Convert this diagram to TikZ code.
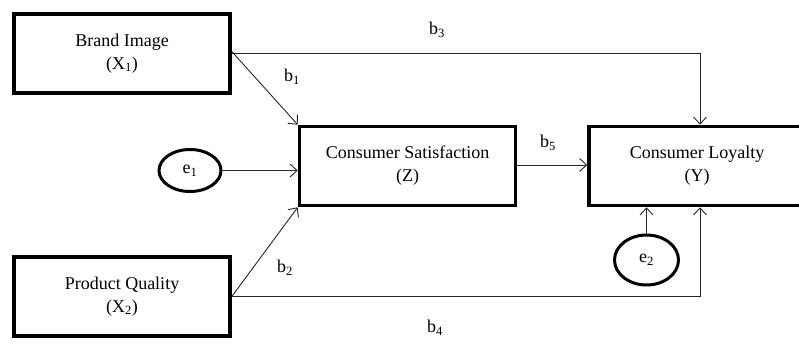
\documentclass[tikz,border=0pt]{standalone}
\usepackage{fontspec}
\setmainfont{Liberation Serif}
\usetikzlibrary{arrows.meta,shapes.geometric}
\begin{document}
\begin{tikzpicture}[x=1pt,y=-1pt,
  box/.style={draw,line width=3.6pt,minimum width=216pt,minimum height=79pt,align=center,font=\fontsize{18}{23}\selectfont,inner sep=0pt},
  err/.style={draw,ellipse,line width=3pt,minimum width=62pt,minimum height=42pt,inner sep=0pt,font=\fontsize{18}{22}\selectfont},
  conn/.style={line width=0.9pt,draw=black!85,-{Straight Barb[length=7pt,width=13pt,line width=0.9pt]}},
  lab/.style={font=\fontsize{18}{22}\selectfont,inner sep=0pt}]
\useasboundingbox (0,0) rectangle (799,343);
\clip (0,0) rectangle (799,343);
\node[box] (bi) at (122,53.5) {Brand Image\\(X\textsubscript{1})};
\node[box] (pq) at (122,296.5) {Product Quality\\(X\textsubscript{2})};
\node[box] (cs) at (407.5,166) {Consumer Satisfaction\\(Z)};
\node[box] (cl) at (697,166) {Consumer Loyalty\\(Y)};
\node[err] (e1) at (190,170.5) {e\textsubscript{1}};
\node[err,minimum height=50pt,minimum width=64pt] (e2) at (646.5,260) {e\textsubscript{2}};
\draw[conn] (bi.east) -| ([xshift=3pt]cl.north);
\draw[conn] ([yshift=2pt]bi.east) -- (cs.north west);
\draw[conn] (e1.east) -- (e1.east -| cs.west);
\draw[conn] (pq.east) -- (cs.south west);
\draw[conn] (pq.east) -| ([xshift=3pt]cl.south);
\draw[conn] ([yshift=1pt]cs.east) -- ([yshift=1pt]cs.east -| cl.west);
\draw[conn] (e2.north) -- (e2.north |- cl.south);
\node[lab] (b1) at (292,77) {b\textsubscript{1}};
\node[lab] (b2) at (285,268) {b\textsubscript{2}};
\node[lab] (b3) at (437,30) {b\textsubscript{3}};
\node[lab] (b4) at (435,328) {b\textsubscript{4}};
\node[lab] (b5) at (548,143) {b\textsubscript{5}};
\end{tikzpicture}
\end{document}
